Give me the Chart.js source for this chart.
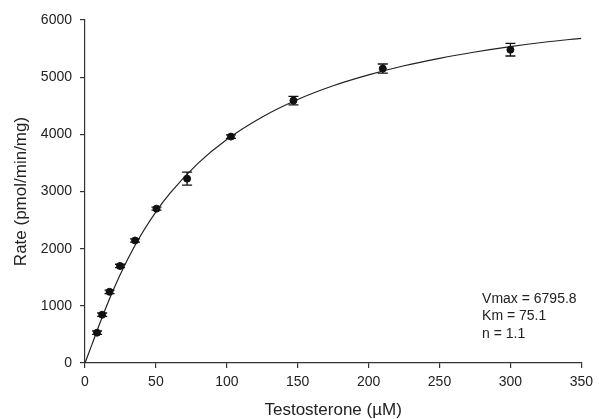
<!DOCTYPE html>
<html>
<head>
<meta charset="utf-8">
<script src="https://cdn.jsdelivr.net/npm/chart.js@4"></script>
<style>
    html, body { margin: 0; padding: 0; background: #fff; }
    #wrap { width: 599px; height: 419px; }
</style>
</head>
<body>
<div id="wrap"><canvas id="hillChart" width="599" height="419"></canvas></div>
<script>
// Measured points (testosterone in uM, rate in pmol/min/mg)
const concentrations = [8.5, 12.1, 17.3, 24.7, 35.3, 50.4, 72, 102.9, 147, 210, 300];
const rates = [530, 845, 1245, 1697, 2143, 2700, 3225, 3960, 4590, 5150, 5480];
const rateErrors = [30, 30, 30, 30, 30, 25, 115, 30, 75, 80, 110];

// Fitted curve
const fitX = [0, 5, 10, 20, 30, 40, 50, 60, 80, 100, 125, 150, 175, 200, 225, 250, 275, 300, 325, 350];
const fitY = [0, 330, 665, 1280, 1810, 2260, 2645, 2970, 3500, 3910, 4305, 4610, 4850, 5040, 5200, 5330, 5440, 5535, 5615, 5680];

const xTicks = [0, 50, 100, 150, 200, 250, 300, 350];
const yTicks = [0, 1000, 2000, 3000, 4000, 5000, 6000];
const fitLabels = ['Vmax = 6795.8', 'Km = 75.1', 'n = 1.1'];

(function() {
    'use strict';

    const FONT = "'Liberation Sans', Arial, sans-serif";
    const INK = '#222';

    // vertical error bars with caps
    const errorBars = {
        id: 'errorBars',
        afterDatasetsDraw(chart) {
            const ctx = chart.ctx;
            const xs = chart.scales.x;
            const ys = chart.scales.y;
            ctx.save();
            ctx.strokeStyle = '#111';
            ctx.lineWidth = 1.3;
            concentrations.forEach((c, i) => {
                const px = xs.getPixelForValue(c);
                const top = ys.getPixelForValue(rates[i] + rateErrors[i]);
                const bot = ys.getPixelForValue(rates[i] - rateErrors[i]);
                ctx.beginPath();
                ctx.moveTo(px, top);
                ctx.lineTo(px, bot);
                ctx.moveTo(px - 5, top);
                ctx.lineTo(px + 5, top);
                ctx.moveTo(px - 5, bot);
                ctx.lineTo(px + 5, bot);
                ctx.stroke();
            });
            ctx.restore();
        }
    };

    // fit parameters text, bottom right
    const fitText = {
        id: 'fitText',
        afterDraw(chart) {
            const ctx = chart.ctx;
            const xs = chart.scales.x;
            const ys = chart.scales.y;
            ctx.save();
            ctx.fillStyle = INK;
            ctx.font = '14px ' + FONT;
            ctx.textBaseline = 'middle';
            const left = xs.getPixelForValue(280);
            fitLabels.forEach((t, i) => {
                ctx.fillText(t, left, ys.getPixelForValue(1120) + i * 17.5);
            });
            ctx.restore();
        }
    };

    function initializeChart() {
        const ctx = document.getElementById('hillChart');
        if (!ctx) return;

        const config = {
            type: 'scatter',
            data: {
                datasets: [
                    {
                        label: 'Fit',
                        data: fitX.map((x, i) => ({ x: x, y: fitY[i] })),
                        showLine: true,
                        borderColor: '#222',
                        borderWidth: 1.2,
                        pointRadius: 0,
                        cubicInterpolationMode: 'monotone',
                        fill: false,
                        order: 2
                    },
                    {
                        label: 'Rate',
                        data: concentrations.map((c, i) => ({ x: c, y: rates[i] })),
                        backgroundColor: '#111',
                        borderColor: '#111',
                        pointRadius: 3.5,
                        order: 1
                    }
                ]
            },
            options: {
                responsive: false,
                animation: false,
                devicePixelRatio: 1,
                layout: { padding: { top: 20, right: 16, left: 0, bottom: 0 } },
                plugins: {
                    legend: { display: false },
                    tooltip: { enabled: false }
                },
                scales: {
                    x: {
                        type: 'linear',
                        min: 0,
                        max: 350,
                        afterFit: s => { s.height = 56; },
                        afterBuildTicks: s => { s.ticks = xTicks.map(v => ({ value: v })); },
                        grid: { drawOnChartArea: false, drawTicks: true, tickLength: 5, tickColor: '#333', lineWidth: 1.2 },
                        border: { display: true, color: '#333', width: 1.2 },
                        ticks: { color: INK, padding: 6, font: { size: 14, family: FONT }, callback: v => String(v) },
                        title: {
                            display: true,
                            text: 'Testosterone (µM)',
                            color: INK,
                            padding: { top: 0, bottom: 0 },
                            font: { size: 17, family: FONT, lineHeight: 1 }
                        }
                    },
                    y: {
                        type: 'linear',
                        min: 0,
                        max: 6000,
                        afterFit: s => { s.width = 85; },
                        afterBuildTicks: s => { s.ticks = yTicks.map(v => ({ value: v })); },
                        grid: { drawOnChartArea: false, drawTicks: true, tickLength: 5, tickColor: '#333', lineWidth: 1.2 },
                        border: { display: true, color: '#333', width: 1.2 },
                        ticks: { color: INK, padding: 8, font: { size: 14, family: FONT }, callback: v => String(v) },
                        title: {
                            display: true,
                            text: 'Rate (pmol/min/mg)',
                            color: INK,
                            padding: { top: 13, bottom: 0 },
                            font: { size: 17, family: FONT, lineHeight: 1 }
                        }
                    }
                }
            },
            plugins: [errorBars, fitText]
        };

        new Chart(ctx, config);
    }

    if (document.readyState === 'loading') {
        document.addEventListener('DOMContentLoaded', initializeChart);
    } else {
        initializeChart();
    }
})();
</script>
</body>
</html>
